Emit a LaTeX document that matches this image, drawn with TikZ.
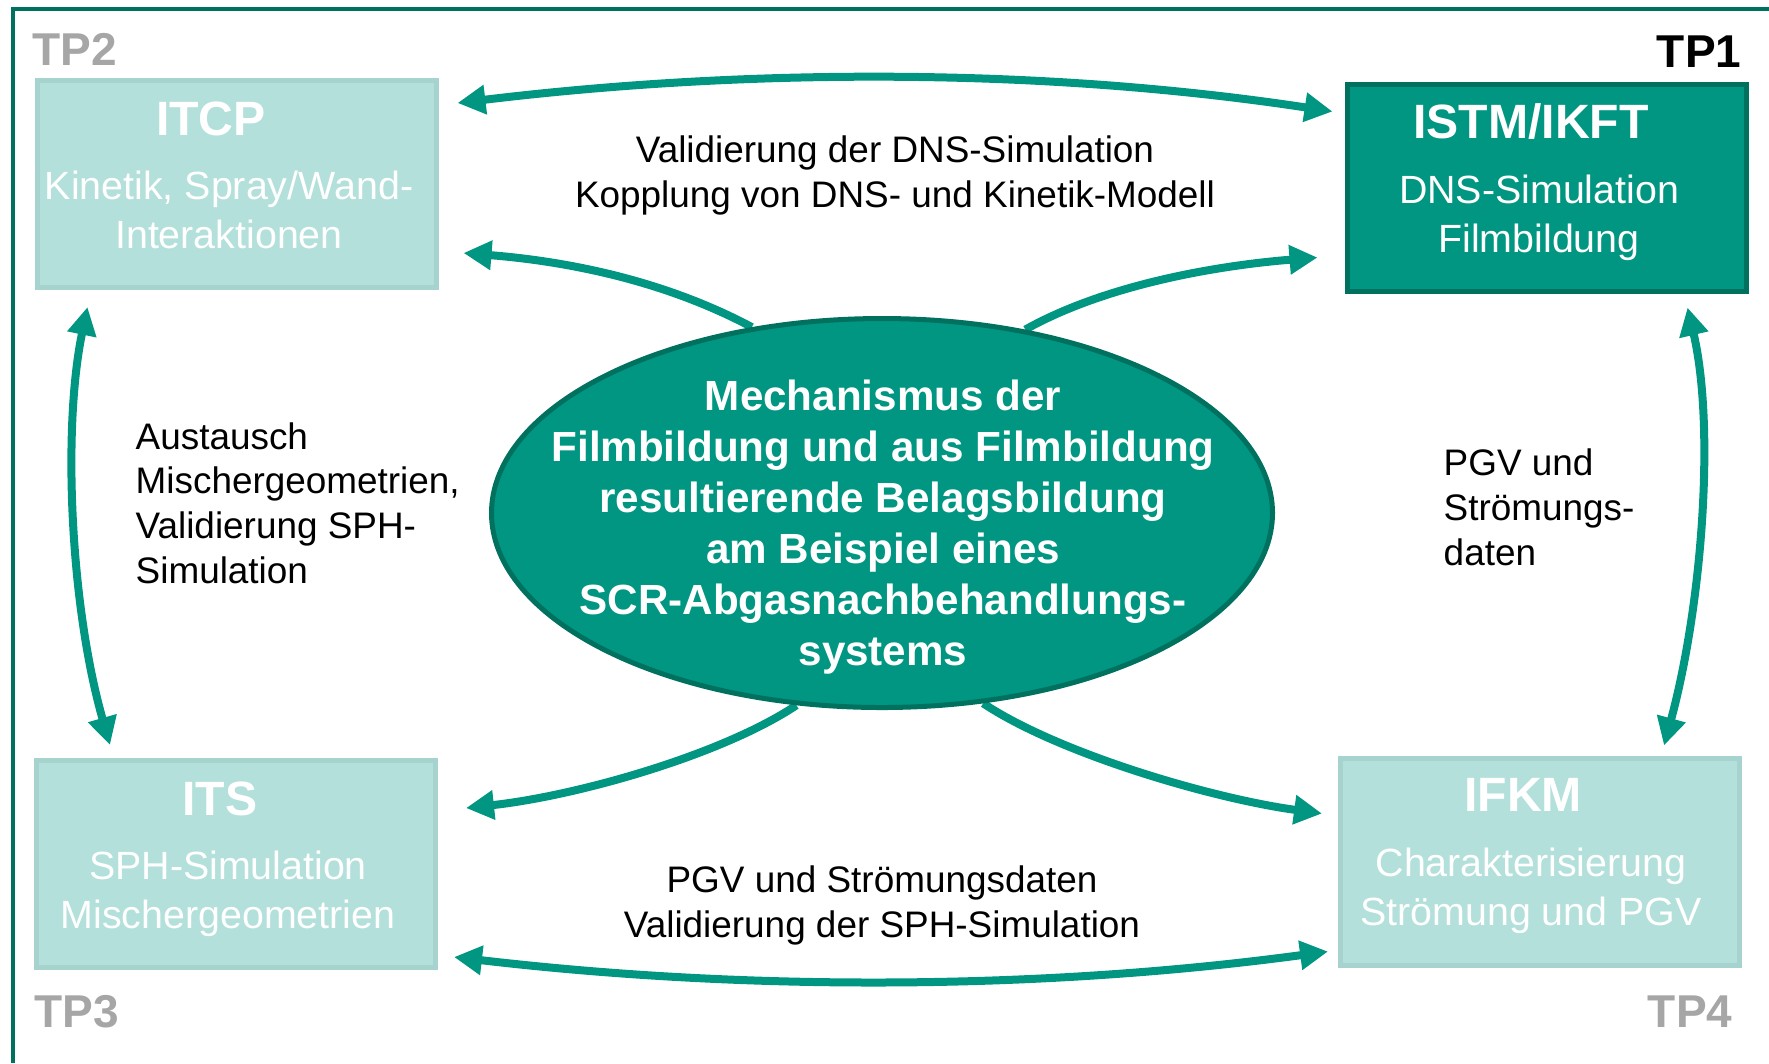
\documentclass[tikz,border=0pt]{standalone}
\usepackage{fontspec}
\setmainfont{Liberation Sans}
\usetikzlibrary{arrows.meta,positioning,calc,shapes.geometric,backgrounds}
\definecolor{kitgreen}{RGB}{0,150,130}
\definecolor{kitdark}{RGB}{0,112,95}
\definecolor{kitlight}{RGB}{179,224,218}
\definecolor{kitlightedge}{RGB}{166,211,205}
\definecolor{tpgray}{RGB}{166,166,166}

\begin{document}
\begin{tikzpicture}[x=0.1mm, y=-0.1mm,
    lightbox/.style={draw=kitlightedge, fill=kitlight, line width=0.5mm,
        minimum width=39.9mm, minimum height=20.7mm, inner sep=0pt},
    darkbox/.style={lightbox, draw=kitdark, fill=kitgreen},
    boxtitle/.style={font=\fontsize{13.7}{16}\selectfont\bfseries, text=white, anchor=base, inner sep=0pt},
    boxbody/.style={font=\fontsize{11.2}{13.7}\selectfont, text=white, align=center, anchor=base, inner sep=0pt},
    tpmark/.style={font=\fontsize{13.1}{16}\selectfont\bfseries, inner sep=0pt},
    note/.style={font=\fontsize{10.5}{12.7}\selectfont, inner sep=0pt},
    link/.style={kitgreen, line width=0.8mm, {Triangle[length=2.8mm, width=2.8mm]}-{Triangle[length=2.8mm, width=2.8mm]}},
    feed/.style={kitgreen, line width=0.8mm, -{Triangle[length=2.8mm, width=2.8mm]}},
]

    \useasboundingbox (0,0) rectangle (1769,1063);

    % Frame
    \draw[kitdark, line width=0.4mm] (1769,9) -- (13,9) -- (13,1063);

    % Partner boxes
    \node[lightbox] (itcp) at (236.5,184) {};
    \node[darkbox]  (istm) at (1546.5,187.5) {};
    \node[lightbox] (its)  at (236,864) {};
    \node[lightbox] (ifkm) at (1540,861.5) {};

    % (multi-line nodes sit on their last baseline)
    \node[boxtitle] (itcp-title) at (211,135) {ITCP};
    \node[boxbody]  (itcp-body)  at (229,248) {Kinetik, Spray/Wand-\\Interaktionen};
    \node[boxtitle] (istm-title) at (1531,138) {ISTM/IKFT};
    \node[boxbody]  (istm-body)  at (1539,252) {DNS-Simulation\\Filmbildung};
    \node[boxtitle] (its-title)  at (220,815) {ITS};
    \node[boxbody]  (its-body)   at (228,928) {SPH-Simulation\\Mischergeometrien};
    \node[boxtitle] (ifkm-title) at (1523,811) {IFKM};
    \node[boxbody]  (ifkm-body)  at (1531,925) {Charakterisierung\\Strömung und PGV};

    % Subproject marks
    \node[tpmark, text=tpgray, anchor=base west] (tp2) at (32,65) {TP2};
    \node[tpmark, anchor=base east] (tp1) at (1742,67) {TP1};
    \node[tpmark, text=tpgray, anchor=base west] (tp3) at (34,1027) {TP3};
    \node[tpmark, text=tpgray, anchor=base east] (tp4) at (1733,1027) {TP4};

    % Central topic
    \node[ellipse, draw=kitdark, fill=kitgreen, line width=0.5mm,
        minimum width=78.1mm, minimum height=38.9mm, inner sep=0pt] (mech) at (882,513) {};
    \node[font=\fontsize{12}{14.5}\selectfont\bfseries, text=white, align=center,
        anchor=base, inner sep=0pt] (mech-text) at (883,665)
        {Mechanismus der\\Filmbildung und aus Filmbildung\\resultierende Belagsbildung\\am Beispiel eines\\SCR-Abgasnachbehandlungs-\\systems};

    % Exchange notes
    \node[note, align=center, anchor=base] (dns-note) at (895,207)
        {Validierung der DNS-Simulation\\Kopplung von DNS- und Kinetik-Modell};
    \node[note, align=center, anchor=base] (sph-note) at (882,937)
        {PGV und Strömungsdaten\\Validierung der SPH-Simulation};
    \node[note, align=left, anchor=base west] (geo-note) at (135,583)
        {Austausch\\Mischergeometrien,\\Validierung SPH-\\Simulation};
    \node[note, align=left, anchor=base west] (pgv-note) at (1443,565)
        {PGV und\\Strömungs-\\daten};

    % Arrow ends
    \coordinate (top-l) at ($(itcp.north east)+(19,25)$);
    \coordinate (top-r) at ($(istm.north west)+(-12,30)$);
    \coordinate (ul-tip) at ($(itcp.south east)+(25,-37)$);
    \coordinate (ur-tip) at ($(istm.south west)+(-27,-36)$);
    \coordinate (ll-tip) at ($(its.north east)+(28,50)$);
    \coordinate (lr-tip) at ($(ifkm.north west)+(-16,58)$);
    \coordinate (bot-l) at ($(its.south east)+(16,-13)$);
    \coordinate (bot-r) at ($(ifkm.south west)+(-10,-16)$);
    \coordinate (left-t) at ($(itcp.south west)+(53,17)$);
    \coordinate (left-b) at ($(its.north west)+(76,-13)$);
    \coordinate (right-t) at ($(istm.south east)+(-61,14)$);
    \coordinate (right-b) at ($(ifkm.north east)+(-78,-10)$);

    % Arrows
    \draw[link] (top-l) .. controls +(290,-35) and +(-290,-44) .. (top-r);
    \draw[link] (bot-l) .. controls +(290,34) and +(-290,39) .. (bot-r);
    \draw[link] (left-t) .. controls +(-25,120) and +(-40,-140) .. (left-b);
    \draw[link] (right-t) .. controls +(28,120) and +(38,-140) .. (right-b);

    \begin{scope}[on background layer]
        \draw[feed] (mech.125) .. controls +(-90,-48) and +(100,8) .. (ul-tip);
        \draw[feed] (mech.52) .. controls +(80,-45) and +(-100,8) .. (ur-tip);
        \draw[feed] (mech.246) .. controls +(-75,50) and +(110,-12) .. (ll-tip);
        \draw[feed] (mech.298) .. controls +(75,50) and +(-110,-15) .. (lr-tip);
    \end{scope}

\end{tikzpicture}
\end{document}
